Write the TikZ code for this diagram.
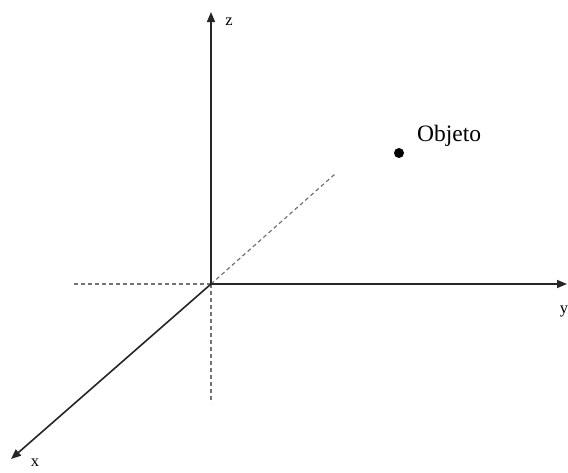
\documentclass[tikz,border=0pt]{standalone}
\usepackage{fontspec}
\setmainfont{Liberation Serif}
\usetikzlibrary{arrows.meta}
\begin{document}
\begin{tikzpicture}[x=1pt,y=-1pt,
  axis/.style={line width=1.6pt,black!85,-{Triangle[length=10pt,width=8pt]}},
  guide/.style={line width=1.2pt,black!55,dash pattern=on 4pt off 3pt},
  lbl/.style={inner sep=0pt,font=\fontsize{16.5}{18}\selectfont}]
\useasboundingbox (0,0) rectangle (568,472);
\coordinate (O) at (211,284);
\coordinate (Z) at (211,12);
\coordinate (Y) at (567,284);
\coordinate (X) at (11,459);
\coordinate (L) at (74,284);
\coordinate (D) at (211,403);
\coordinate (G) at (335,174);
\draw[guide] (O) -- (L);
\draw[guide] (O) -- (D);
\draw[guide] (O) -- (G);
\draw[axis] (O) -- (Z);
\draw[axis] (O) -- (Y);
\draw[axis] (O) -- (X);
\node[lbl] (zl) at (229,22) {z};
\node[lbl] (yl) at (564,311) {y};
\node[lbl] (xl) at (35,463) {x};
\node[circle,fill=black,inner sep=0pt,minimum size=10pt] (obj) at (399,153) {};
\node[anchor=west,inner sep=0pt,font=\fontsize{23.5}{25}\selectfont] (ol) at (417,136) {Objeto};
\end{tikzpicture}
\end{document}
